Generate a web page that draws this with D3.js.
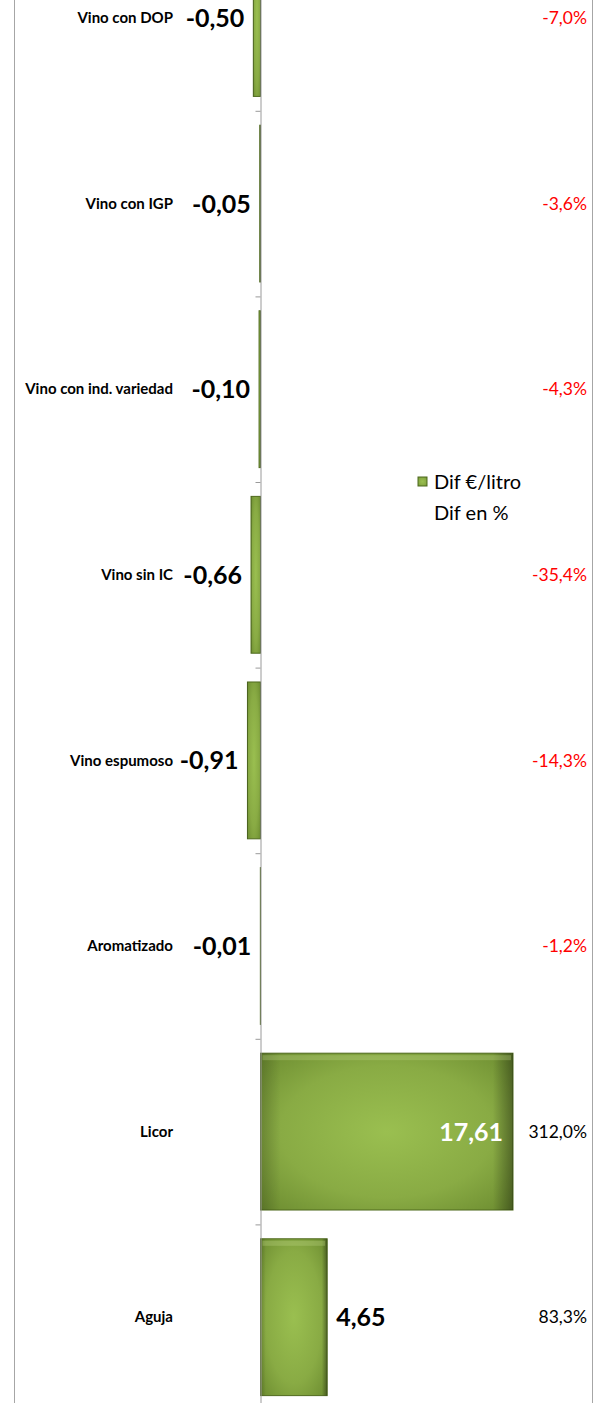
<!DOCTYPE html>
<html>
<head>
<meta charset="utf-8">
<script src="https://cdn.jsdelivr.net/npm/d3@7"></script>
<style>
  body { margin: 0; background: #fff; }
  svg { display: block; font-family: Lato, "Open Sans", sans-serif; }
</style>
</head>
<body>
<svg id="chart"></svg>
<script>
const categories = ["Vino con DOP", "Vino con IGP", "Vino con ind. variedad", "Vino sin IC",
                    "Vino espumoso", "Aromatizado", "Licor", "Aguja"];
const difEuro = [-0.50, -0.05, -0.10, -0.66, -0.91, -0.01, 17.61, 4.65];
const difPct = [-7.0, -3.6, -4.3, -35.4, -14.3, -1.2, 312.0, 83.3];
const legendLabels = ["Dif €/litro", "Dif en %"];

const width = 605, height = 1403;
const data = categories.map((c, i) => ({ cat: c, val: difEuro[i], pct: difPct[i] }));

const locale = d3.formatLocale({ decimal: ",", thousands: ".", grouping: [3], currency: ["", "€"], minus: "-" });
const fmtVal = locale.format(".2f");
const fmtPct = locale.format(".1f");

const svg = d3.select("#chart").attr("width", width).attr("height", height);

// gradients for the bevelled green bars
const defs = svg.append("defs");
const rg = defs.append("radialGradient").attr("id", "barFill")
  .attr("cx", "50%").attr("cy", "50%").attr("r", "70%");
rg.append("stop").attr("offset", "0%").attr("stop-color", "#9abf50");
rg.append("stop").attr("offset", "60%").attr("stop-color", "#89ab44");
rg.append("stop").attr("offset", "100%").attr("stop-color", "#6c8c30");
const edge = defs.append("linearGradient").attr("id", "barEdge")
  .attr("x1", "0").attr("x2", "1").attr("y1", "0").attr("y2", "0");
edge.append("stop").attr("offset", "0%").attr("stop-color", "#000").attr("stop-opacity", 0.18);
edge.append("stop").attr("offset", "8%").attr("stop-color", "#000").attr("stop-opacity", 0);
edge.append("stop").attr("offset", "92%").attr("stop-color", "#000").attr("stop-opacity", 0);
edge.append("stop").attr("offset", "100%").attr("stop-color", "#000").attr("stop-opacity", 0.35);

// scales
const step = 185.6;
const bandTop = 18 - step / 2;
const y = d3.scaleBand().domain(categories)
  .range([bandTop, bandTop + step * categories.length]).paddingInner(0.155).paddingOuter(0.0775);
const yIdx = d3.scaleLinear().domain([0, categories.length]).range(y.range());
const x = d3.scaleLinear().domain([0, 17.61]).range([260.5, 513]);

// outer frame lines
svg.append("line").attr("x1", 14.5).attr("x2", 14.5).attr("y1", 0).attr("y2", height)
  .attr("stroke", "#a6a6a6");
svg.append("line").attr("x1", 592.5).attr("x2", 592.5).attr("y1", 0).attr("y2", height)
  .attr("stroke", "#a6a6a6");

// bars
const bars = svg.append("g");
const barH = y.bandwidth();
bars.selectAll("rect.bar").data(data).enter().append("rect")
  .attr("class", "bar")
  .attr("x", d => x(Math.min(0, d.val)))
  .attr("y", d => y(d.cat))
  .attr("width", d => Math.abs(x(d.val) - x(0)))
  .attr("height", barH)
  .attr("fill", "url(#barFill)")
  .attr("stroke", "#4f6a1e").attr("stroke-width", 1);
bars.selectAll("rect.shade").data(data).enter().append("rect")
  .attr("class", "shade")
  .attr("x", d => x(Math.min(0, d.val)))
  .attr("y", d => y(d.cat))
  .attr("width", d => Math.abs(x(d.val) - x(0)))
  .attr("height", barH)
  .attr("fill", "url(#barEdge)");
// soft bevel band near the top
bars.selectAll("rect.hi").data(data.filter(d => Math.abs(x(d.val) - x(0)) > 20)).enter().append("rect")
  .attr("class", "hi")
  .attr("x", d => x(Math.min(0, d.val)) + 2)
  .attr("y", d => y(d.cat) + 2)
  .attr("width", d => Math.abs(x(d.val) - x(0)) - 4)
  .attr("height", 5)
  .attr("fill", "#c2dc8a").attr("opacity", 0.3);

// vertical axis with ticks between categories
const axis = svg.append("g").attr("transform", `translate(${x(0)},0)`)
  .call(d3.axisLeft(yIdx).tickValues(d3.range(0, categories.length + 1))
    .tickSize(5).tickFormat(""));
axis.selectAll("path, line").attr("stroke", "#9a9a9a");

// category labels
svg.append("g").selectAll("text").data(data).enter().append("text")
  .attr("x", 173)
  .attr("y", d => y(d.cat) + barH / 2)
  .attr("dy", "0.35em")
  .attr("text-anchor", "end")
  .attr("font-size", 15).attr("font-weight", "bold")
  .text(d => d.cat);

// value labels
svg.append("g").selectAll("text").data(data).enter().append("text")
  .attr("x", d => d.val < 0 ? x(d.val) - 9 : (x(d.val) - x(0) > 100 ? x(d.val) - 10 : x(d.val) + 9))
  .attr("y", d => y(d.cat) + barH / 2)
  .attr("dy", "0.36em")
  .attr("text-anchor", d => d.val < 0 || x(d.val) - x(0) > 100 ? "end" : "start")
  .attr("font-size", 25).attr("font-weight", "bold")
  .attr("fill", d => d.val > 0 && x(d.val) - x(0) > 100 ? "#fff" : "#000")
  .text(d => fmtVal(d.val));

// percent labels
svg.append("g").selectAll("text").data(data).enter().append("text")
  .attr("x", 587)
  .attr("y", d => y(d.cat) + barH / 2)
  .attr("dy", "0.35em")
  .attr("text-anchor", "end")
  .attr("font-size", 17.5)
  .attr("fill", d => d.pct < 0 ? "#ff0000" : "#000")
  .text(d => fmtPct(d.pct) + "%");

// legend
const legend = svg.append("g").attr("transform", "translate(418,477)");
legend.append("rect").attr("width", 9).attr("height", 9)
  .attr("fill", "url(#barFill)").attr("stroke", "#4f6a1e");
legend.selectAll("text").data(legendLabels).enter().append("text")
  .attr("x", 16)
  .attr("y", (d, i) => 5 + i * 31)
  .attr("dy", "0.35em")
  .attr("font-size", 20)
  .text(d => d);
</script>
</body>
</html>
